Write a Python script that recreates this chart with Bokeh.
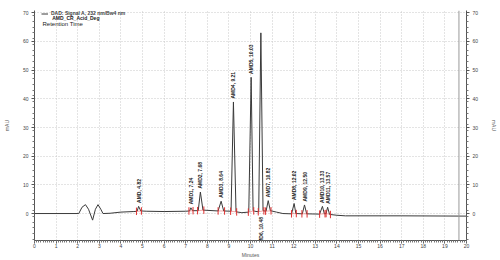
import numpy as np
from bokeh.plotting import figure
from bokeh.models import (ColumnDataSource, LinearAxis, Range1d, Span, Label, Legend, LegendItem,
                          FixedTicker)
from bokeh.embed import file_html
from bokeh.resources import INLINE

# ---- data ----
trace_time = [0.0, 2.05, 2.2, 2.36, 2.5, 2.69, 2.82, 2.94, 3.07, 3.17, 3.5, 4.0, 4.6, 4.75, 4.82, 4.92,
              5.2, 6.0, 7.0, 7.18, 7.24, 7.32, 7.58, 7.68, 7.8, 8.5, 8.64, 8.76, 9.1, 9.21, 9.33,
              9.6, 9.92, 10.03, 10.12, 10.2, 10.38, 10.48, 10.58, 10.72, 10.82, 10.92, 11.2, 11.5,
              11.9, 12.02, 12.1, 12.4, 12.5, 12.6, 13.2, 13.33, 13.42, 13.5, 13.57, 13.66, 14.0,
              14.4, 17.0, 20.0]
trace_mau = [0.0, 0.0, 2.2, 3.1, 1.5, -2.3, 1.5, 3.1, 1.5, 0.0, 0.1, 0.5, 0.7, 0.8, 2.5, 0.9,
             0.8, 0.7, 0.8, 0.9, 2.0, 1.0, 1.0, 7.5, 1.2, 0.9, 4.3, 0.9, 0.8, 38.9, 0.6,
             0.3, 0.5, 47.5, 1.0, 0.8, 0.6, 63.0, 1.0, 0.8, 4.5, 1.0, 0.5, 0.0,
             -0.1, 3.5, 0.0, -0.1, 3.0, -0.1, -0.2, 2.5, -0.1, 0.0, 2.2, -0.3, -0.6,
             -0.8, -0.8, -0.9]

peak_names = ["AMD, 4.82", "AMD1, 7.24", "AMD2, 7.68", "AMD3, 8.64", "AMD4, 9.21", "AMD5, 10.03",
              "AMD6, 10.48", "AMD7, 10.82", "AMD8, 12.02", "AMD9, 12.50", "AMD10, 13.33", "AMD11, 13.57"]
peak_time = [4.82, 7.24, 7.68, 8.64, 9.21, 10.03, 10.48, 10.82, 12.02, 12.50, 13.33, 13.57]
peak_height = [2.5, 2.0, 7.5, 4.3, 38.9, 47.5, 63.0, 4.5, 3.5, 3.0, 2.5, 2.2]
label_below = [False, False, False, False, False, False, True, False, False, False, False, False]

peak_start = [4.72, 7.15, 7.55, 8.50, 9.08, 9.90, 10.36, 10.70, 11.90, 12.38, 13.20, 13.50]
peak_end = [4.95, 7.34, 7.84, 8.80, 9.36, 10.15, 10.62, 10.95, 12.12, 12.62, 13.45, 13.70]

cursor_time = 19.65
x_ticks = list(range(0, 21))
y_ticks = [0, 10, 20, 30, 40, 50, 60, 70]

FONT = "Liberation Sans"

p = figure(width=500, height=260, output_backend="svg", toolbar_location=None,
           x_range=Range1d(0, 20), y_range=Range1d(-9.4, 70.8),
           min_border_left=32, min_border_right=30, min_border_top=10, min_border_bottom=17)
p.styles = {"position": "absolute", "left": "0px", "top": "0px"}
p.outline_line_color = None
p.background_fill_color = "white"
p.border_fill_color = "white"

# grid
for g in (p.xgrid, p.ygrid):
    g.grid_line_color = "#c8c8c8"
    g.grid_line_dash = "1 2"
    g.grid_line_width = 1
p.xgrid.ticker = FixedTicker(ticks=x_ticks)
p.ygrid.ticker = FixedTicker(ticks=y_ticks)

def style_axis(ax):
    ax.axis_line_color = "#555555"
    ax.major_tick_line_color = "#555555"
    ax.minor_tick_line_color = "#777777"
    ax.major_tick_out = 3
    ax.major_tick_in = 0
    ax.minor_tick_out = 2
    ax.minor_tick_in = 0
    ax.major_label_text_font = FONT
    ax.major_label_text_font_size = "5px"
    ax.major_label_text_color = "#444444"
    ax.major_label_standoff = 3
    ax.axis_label_text_font = FONT
    ax.axis_label_text_font_size = "5px"
    ax.axis_label_text_font_style = "normal"
    ax.axis_label_text_color = "#555555"

p.xaxis.ticker = FixedTicker(ticks=x_ticks, minor_ticks=list(np.arange(0, 20.01, 0.1)))
p.xaxis.axis_label = "Minutes"
style_axis(p.xaxis[0])
p.xaxis.major_label_standoff = 0
p.xaxis.axis_label_standoff = 1

p.yaxis.ticker = FixedTicker(ticks=y_ticks, minor_ticks=list(np.arange(-9, 71, 2)))
p.yaxis.axis_label = "mAU"
style_axis(p.yaxis[0])
p.yaxis.axis_label_standoff = 10

ry = LinearAxis(ticker=FixedTicker(ticks=y_ticks, minor_ticks=list(np.arange(-9, 71, 2))),
                axis_label="mAU")
style_axis(ry)
ry.axis_label_standoff = 10
p.add_layout(ry, "right")

# cursor line
p.add_layout(Span(location=cursor_time, dimension="height", line_color="#9a9a9a", line_width=1))

# trace
src = ColumnDataSource(dict(t=trace_time, y=trace_mau))
r = p.line("t", "y", source=src, line_color="#3a3a3a", line_width=1)

# integration marks (red)
base_s = np.interp(peak_start, trace_time, trace_mau)
base_e = np.interp(peak_end, trace_time, trace_mau)
mt = list(peak_start) + list(peak_end)
mb = list(base_s) + list(base_e)
p.segment(x0=mt, y0=[b - 1.3 for b in mb], x1=mt, y1=[b + 1.3 for b in mb],
          line_color="#e03030", line_width=1)
p.segment(x0=peak_start, y0=list(base_s), x1=peak_end, y1=list(base_e),
          line_color="#e03030", line_width=0.7, line_alpha=0.6)

# peak labels
up_t = [t for t, b in zip(peak_time, label_below) if not b]
up_y = [h + 1.2 for h, b in zip(peak_height, label_below) if not b]
up_n = [n for n, b in zip(peak_names, label_below) if not b]
p.text(x=up_t, y=up_y, text=up_n, angle=np.pi / 2, text_font_size="5px",
       text_font_style="bold", text_align="left", text_baseline="middle", text_color="#222222",
       text_font={"value": FONT})
dn_t = [t for t, b in zip(peak_time, label_below) if b]
dn_n = [n for n, b in zip(peak_names, label_below) if b]
p.text(x=dn_t, y=[-1.2] * len(dn_t), text=dn_n, angle=np.pi / 2, text_font_size="5px",
       text_font_style="bold", text_align="right", text_baseline="middle", text_color="#222222",
       text_font={"value": FONT})

# legend (signal line sample + first line), second line and subtitle as labels
leg = Legend(items=[LegendItem(label="DAD: Signal A, 232 nm/Bw4 nm", renderers=[r])],
             location=(7, 224), border_line_color=None, background_fill_alpha=0,
             label_text_font=FONT, label_text_font_size="5px", label_text_font_style="bold",
             glyph_width=7, glyph_height=5, label_standoff=3, padding=0, margin=0,
             label_height=5, spacing=0)
p.add_layout(leg)
p.add_layout(Label(x=0.82, y=68.3, text="AMD_CR_Acid_Deg", text_font=FONT, text_font_size="5px",
                   text_font_style="bold", text_baseline="middle", text_color="#222222"))
p.add_layout(Label(x=0.37, y=66.0, text="Retention Time",
                   text_font=FONT, text_font_size="6px", text_baseline="middle", text_color="#222222"))
p.add_layout(Label(x=31, y=4, x_units="canvas", y_units="canvas",
                   text="Time: 19.9321 Minutes - Amplitude: -0.90450 mAU",
                   text_font=FONT, text_font_size="4.5px", text_baseline="middle", text_color="#444444"))

open("out.html", "w").write(file_html(p, INLINE))
